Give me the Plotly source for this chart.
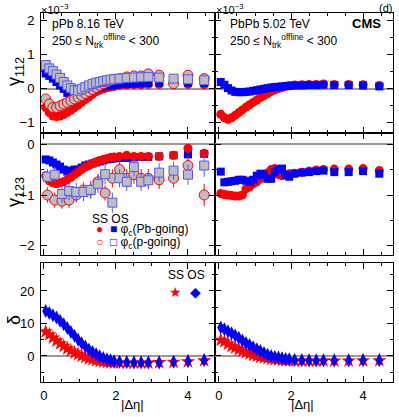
import plotly.graph_objects as go

# |delta eta| bins
deta = [0.05, 0.15, 0.25, 0.35, 0.45, 0.55, 0.65, 0.75, 0.85, 0.95,
        1.05, 1.15, 1.25, 1.35, 1.45, 1.55, 1.65, 1.75, 1.85, 1.95,
        2.1, 2.3, 2.5, 2.7, 2.9, 3.2, 3.6, 4.0, 4.45]
# coarser bins for the p-going gamma_123
deta_p = [0.1, 0.3, 0.5, 0.7, 0.9, 1.1, 1.3, 1.5, 1.7, 1.9,
          2.1, 2.3, 2.5, 2.7, 2.9, 3.2, 3.6, 4.0, 4.45]

# gamma_112 (x1e-3), pPb 8.16 TeV
g112_pPb_ss_pb = [-0.55, -0.7, -0.8, -0.82, -0.8, -0.76, -0.7, -0.63, -0.56, -0.48,
                  -0.4, -0.32, -0.24, -0.16, -0.09, -0.04, 0.0, 0.03, 0.05, 0.07,
                  0.1, 0.11, 0.12, 0.12, 0.13, 0.13, 0.12, 0.13, 0.12]
g112_pPb_os_pb = [0.45, 0.38, 0.3, 0.2, 0.1, 0.0, -0.12, -0.2, -0.24, -0.2,
                  -0.14, -0.09, -0.05, -0.01, 0.02, 0.05, 0.07, 0.09, 0.1, 0.11,
                  0.13, 0.14, 0.15, 0.16, 0.17, 0.18, 0.17, 0.18, 0.17]
g112_pPb_ss_p = [-0.3, -0.45, -0.55, -0.55, -0.5, -0.45, -0.4, -0.35, -0.3, -0.25,
                 -0.2, -0.14, -0.08, -0.02, 0.04, 0.1, 0.15, 0.2, 0.25, 0.28,
                 0.3, 0.35, 0.38, 0.38, 0.44, 0.4, 0.15, 0.4, 0.3]
g112_pPb_os_p = [0.7, 0.6, 0.52, 0.42, 0.32, 0.2, 0.1, 0.02, -0.04, -0.05,
                 0.0, 0.05, 0.1, 0.14, 0.18, 0.2, 0.23, 0.25, 0.27, 0.28,
                 0.3, 0.32, 0.33, 0.34, 0.35, 0.33, 0.3, 0.28, 0.25]

# gamma_112 (x1e-3), PbPb 5.02 TeV
g112_PbPb_ss = [-0.75, -0.85, -0.9, -0.85, -0.78, -0.7, -0.62, -0.54, -0.47, -0.4,
                -0.33, -0.26, -0.2, -0.14, -0.08, -0.03, 0.01, 0.04, 0.07, 0.09,
                0.11, 0.12, 0.13, 0.13, 0.14, 0.13, 0.13, 0.12, 0.1]
g112_PbPb_os = [0.2, 0.12, 0.02, -0.05, -0.09, -0.1, -0.1, -0.09, -0.08, -0.06,
                -0.04, -0.02, 0.0, 0.02, 0.04, 0.05, 0.06, 0.07, 0.08, 0.09,
                0.1, 0.1, 0.11, 0.11, 0.12, 0.11, 0.11, 0.1, 0.07]

# gamma_123 (x1e-3), pPb 8.16 TeV
g123_pPb_ss_pb = [-0.62, -0.72, -0.76, -0.78, -0.76, -0.74, -0.7, -0.65, -0.6, -0.55,
                  -0.5, -0.45, -0.42, -0.38, -0.35, -0.32, -0.3, -0.28, -0.26, -0.25,
                  -0.24, -0.22, -0.24, -0.24, -0.24, -0.24, -0.22, -0.08, -0.18]
g123_pPb_os_pb = [-0.3, -0.32, -0.36, -0.4, -0.44, -0.5, -0.54, -0.52, -0.5, -0.5,
                  -0.46, -0.42, -0.4, -0.38, -0.36, -0.34, -0.32, -0.3, -0.29, -0.28,
                  -0.27, -0.27, -0.26, -0.25, -0.25, -0.24, -0.22, -0.2, -0.19]
g123_pPb_ss_p = [-1.0, -1.1, -1.12, -1.1, -1.0, -0.9, -0.9, -0.74, -0.96, -0.67,
                 -0.5, -0.67, -0.6, -0.67, -0.67, -0.7, -0.67, -0.42, -1.0]
g123_pPb_ss_p_err = [0.15, 0.15, 0.15, 0.15, 0.15, 0.15, 0.15, 0.15, 0.15, 0.18,
                     0.18, 0.18, 0.18, 0.18, 0.18, 0.18, 0.18, 0.2, 0.22]
g123_pPb_os_p = [-0.64, -0.6, -0.98, -0.92, -0.94, -0.94, -0.9, -0.78, -0.59, -1.15,
                 -0.67, -0.74, -0.45, -0.74, -0.71, -0.56, -0.52, -0.6, -0.42]
g123_pPb_os_p_err = [0.15, 0.15, 0.18, 0.18, 0.18, 0.18, 0.18, 0.18, 0.2, 0.2,
                     0.18, 0.18, 0.18, 0.18, 0.18, 0.18, 0.18, 0.2, 0.22]

# gamma_123 (x1e-3), PbPb 5.02 TeV
g123_PbPb_ss = [-0.97, -0.99, -1.0, -1.01, -1.02, -1.02, -1.0, -0.88, -0.84, -0.78,
                -0.74, -0.68, -0.62, -0.56, -0.5, -0.48, -0.6, -0.62, -0.6, -0.58,
                -0.57, -0.55, -0.53, -0.51, -0.5, -0.49, -0.49, -0.48, -0.52]
g123_PbPb_os = [-0.54, -0.75, -0.74, -0.73, -0.72, -0.7, -0.7, -0.72, -0.74, -0.7,
                -0.62, -0.58, -0.6, -0.68, -0.68, -0.55, -0.5, -0.48, -0.6, -0.64,
                -0.58, -0.56, -0.55, -0.53, -0.52, -0.55, -0.55, -0.53, -0.58]

# delta, pPb 8.16 TeV
delta_pPb_ss = [7.5, 6.6, 5.6, 4.7, 3.8, 3.0, 2.3, 1.6, 1.0, 0.5,
                0.0, -0.4, -0.8, -1.1, -1.4, -1.6, -1.8, -1.9, -2.0, -2.1,
                -2.1, -2.1, -2.1, -2.1, -2.1, -2.0, -1.9, -1.7, -1.4]
delta_pPb_os = [13.8, 13.2, 12.5, 11.8, 10.8, 9.8, 8.6, 7.4, 6.2, 5.0,
                3.9, 2.9, 2.0, 1.2, 0.5, -0.1, -0.6, -1.0, -1.3, -1.6,
                -1.8, -1.9, -2.0, -2.0, -2.0, -2.0, -1.8, -1.6, -1.3]

# delta, PbPb 5.02 TeV
delta_PbPb_ss = [4.9, 4.4, 3.7, 3.0, 2.5, 2.0, 1.5, 1.1, 0.7, 0.3,
                 0.0, -0.3, -0.5, -0.7, -0.9, -1.0, -1.2, -1.3, -1.4, -1.4,
                 -1.5, -1.5, -1.5, -1.5, -1.5, -1.5, -1.5, -1.4, -1.4]
delta_PbPb_os = [8.8, 8.2, 7.6, 7.0, 6.3, 5.6, 4.8, 4.0, 3.4, 2.7,
                 2.1, 1.5, 0.9, 0.4, 0.0, -0.3, -0.5, -0.7, -0.9, -1.0,
                 -1.2, -1.3, -1.4, -1.4, -1.4, -1.4, -1.4, -1.3, -1.3]

RED = "#ff0000"
BLUE = "#0000ff"
GREY = "#bdbdbd"
FONT = "Liberation Sans, Arial, sans-serif"
W, H = 399, 417


def px_x(p):
    return p / W


def px_y(p):
    return 1 - p / H


def pts(x, y, ax, symbol, color, size=8, fill=None, line_color=None, err=None):
    marker = dict(symbol=symbol, size=size, color=fill or color,
                  line=dict(color=line_color or color, width=1 if fill else 0))
    tr = go.Scatter(x=x, y=y, mode="markers", marker=marker, showlegend=False,
                    xaxis="x" + ax, yaxis="y" + ax, hoverinfo="skip")
    if err is not None:
        tr.error_y = dict(type="data", array=err, color=line_color or color,
                          thickness=1, width=0)
    return tr


fig = go.Figure()

# top: gamma_112
fig.add_trace(pts(deta, g112_pPb_ss_pb, "", "circle", RED, 9))
fig.add_trace(pts(deta, g112_pPb_os_pb, "", "square", BLUE, 8))
fig.add_trace(pts(deta, g112_pPb_ss_p, "", "circle", RED, 10, fill=GREY, line_color=RED))
fig.add_trace(pts(deta, g112_pPb_os_p, "", "square", BLUE, 9, fill=GREY, line_color="#5555ff"))
fig.add_trace(pts(deta, g112_PbPb_ss, "2", "circle", RED, 9))
fig.add_trace(pts(deta, g112_PbPb_os, "2", "square", BLUE, 8))

# middle: gamma_123
fig.add_trace(pts(deta, g123_pPb_os_pb, "3", "square", BLUE, 8))
fig.add_trace(pts(deta, g123_pPb_ss_pb, "3", "circle", RED, 9))
fig.add_trace(pts(deta_p, g123_pPb_ss_p, "3", "circle", RED, 10, fill=GREY,
                  line_color=RED, err=g123_pPb_ss_p_err))
fig.add_trace(pts(deta_p, g123_pPb_os_p, "3", "square", BLUE, 9, fill=GREY,
                  line_color="#5555ff", err=g123_pPb_os_p_err))
fig.add_trace(pts(deta, g123_PbPb_ss, "4", "circle", RED, 9))
fig.add_trace(pts(deta, g123_PbPb_os, "4", "square", BLUE, 8))

# bottom: delta
fig.add_trace(pts(deta, delta_pPb_ss, "5", "star", RED, 11))
fig.add_trace(pts(deta, delta_pPb_os, "5", "diamond-tall", BLUE, 10))
fig.add_trace(pts(deta, delta_PbPb_ss, "6", "star", RED, 11))
fig.add_trace(pts(deta, delta_PbPb_os, "6", "diamond-tall", BLUE, 10))

xl = [px_x(41), px_x(215)]
xr = [px_x(215), px_x(393)]
rows = {"top": [px_y(133), px_y(13)], "mid": [px_y(255), px_y(133)],
        "bot": [px_y(382), px_y(263)]}
yranges = {"top": ([-1.3, 2.23], 1, 0.5), "mid": ([-2.18, 0.22], 1, 0.5),
           "bot": ([-8, 28.6], 10, 5)}

base = dict(showline=True, linecolor="black", linewidth=1, mirror="ticks",
            ticks="inside", ticklen=6, tickwidth=1, tickcolor="black",
            showgrid=False, automargin=False,
            tickfont=dict(family=FONT, size=13, color="black"))


def xax(domain, anchor, rng, labels):
    return dict(base, domain=domain, anchor=anchor, range=rng, dtick=2, tick0=0,
                zeroline=False, showticklabels=labels, ticklabelstandoff=1,
                minor=dict(ticks="inside", ticklen=3, dtick=0.5, tickcolor="black"))


def yax(row, anchor, labels):
    rng, dt, mdt = yranges[row]
    return dict(base, domain=rows[row], anchor=anchor, range=rng, dtick=dt, tick0=0,
                zeroline=True, zerolinecolor="#9a9a9a", zerolinewidth=2,
                showticklabels=labels, ticklabelstandoff=3,
                minor=dict(ticks="inside", ticklen=3, dtick=mdt, tickcolor="black"))


fig.update_layout(
    width=W, height=H, margin=dict(l=0, r=0, t=0, b=0),
    paper_bgcolor="white", plot_bgcolor="white",
    font=dict(family=FONT, color="black"),
    xaxis=xax(xl, "y", [-0.08, 4.75], False),
    yaxis=yax("top", "x", True),
    xaxis2=xax(xr, "y2", [-0.11, 4.83], False),
    yaxis2=yax("top", "x2", False),
    xaxis3=xax(xl, "y3", [-0.08, 4.75], False),
    yaxis3=yax("mid", "x3", True),
    xaxis4=xax(xr, "y4", [-0.11, 4.83], False),
    yaxis4=yax("mid", "x4", False),
    xaxis5=xax(xl, "y5", [-0.08, 4.75], True),
    yaxis5=yax("bot", "x5", True),
    xaxis6=xax(xr, "y6", [-0.11, 4.83], True),
    yaxis6=yax("bot", "x6", False),
)


def label(text, x, y, size=13, xanchor="left", yanchor="middle", color="black", angle=0):
    fig.add_annotation(text=text, x=px_x(x), y=px_y(y), xref="paper", yref="paper",
                       xanchor=xanchor, yanchor=yanchor, showarrow=False, borderpad=0,
                       textangle=angle, font=dict(family=FONT, size=size, color=color))


label("×10<sup>−3</sup>", 40, 1, 11, yanchor="top")
label("×10<sup>−3</sup>", 215, 1, 11, yanchor="top")
label("(d)", 393, 1, 11, xanchor="right", yanchor="top")
label("<b>CMS</b>", 382, 24, 13, xanchor="right")
label("pPb 8.16 TeV", 51, 24, 12)
label("250 ≤ N<sub>trk</sub><sup>offline</sup> < 300", 51, 41, 12)
label("PbPb 5.02 TeV", 229, 24, 12)
label("250 ≤ N<sub>trk</sub><sup>offline</sup> < 300", 229, 41, 12)

label("γ<sub>112</sub>", 15, 72, 18, xanchor="center", angle=-90)
label("γ<sub>123</sub>", 15, 192, 18, xanchor="center", angle=-90)
label("δ", 14, 320, 18, xanchor="center", angle=-90)
label("|Δη|", 132, 404, 13, xanchor="center")
label("|Δη|", 302, 404, 13, xanchor="center")

# legend (middle panel)
label("SS OS", 91, 219, 12)
label("<span style='color:#ff0000'>●</span>  <span style='color:#0000ff'>■</span> "
      "φ<sub>c</sub>(Pb-going)", 95, 230, 12)
label("<span style='color:#ff0000'>○</span>  <span style='color:#0000ff'>□</span> "
      "φ<sub>c</sub>(p-going)", 95, 243, 12)

# legend (bottom panel)
label("SS OS", 167, 275, 12)
label("<span style='color:#ff0000'>★</span>  <span style='color:#0000ff'>◆</span>",
      168, 292, 14)

# drop the page body's default 8px margin so the figure sits at the window corner
fig.write_html("out.html", config={"displayModeBar": False},
               post_script="document.body.style.margin = '0px';")
